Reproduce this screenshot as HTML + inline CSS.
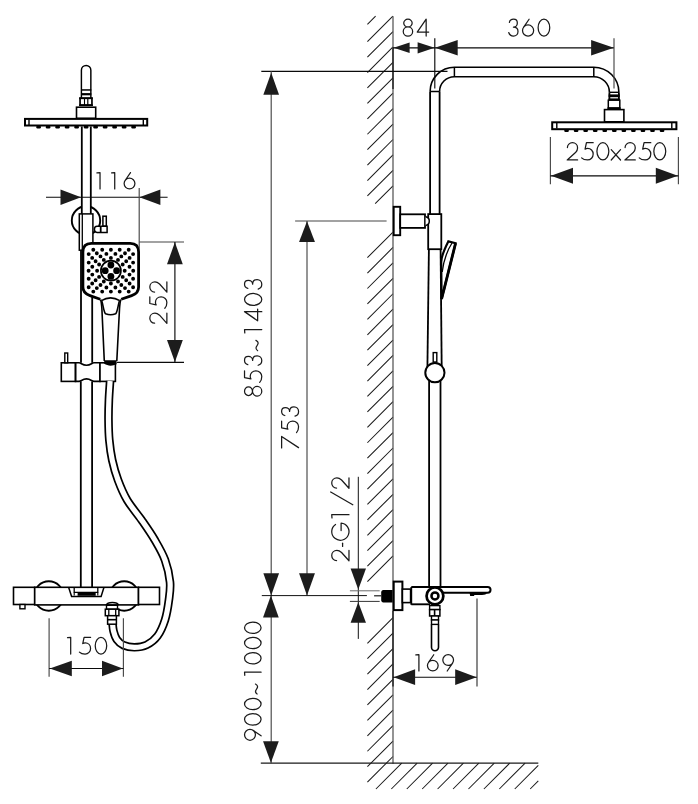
<!DOCTYPE html>
<html><head><meta charset="utf-8"><title>Shower system dimensions</title>
<style>html,body{margin:0;padding:0;background:#fff;width:698px;height:804px;overflow:hidden;font-family:"Liberation Sans",sans-serif}svg{display:block}</style>
</head><body>
<svg width="698" height="804" viewBox="0 0 698 804" stroke-linecap="butt">
<rect width="698" height="804" fill="#fff"/>
<path d="M367.4,24.4 L375.6,16.2 M367.4,41.7 L392.9,16.2 M367.4,57.13 L393,31.53 M367.4,72.55 L393,46.95 M367.4,87.98 L393,62.38 M367.4,103.4 L393,77.8 M367.4,118.83 L393,93.23 M367.4,134.25 L393,108.65 M367.4,149.68 L393,124.08 M367.4,165.1 L393,139.5 M367.4,180.53 L393,154.93 M367.4,195.95 L393,170.35 M375.18,203.6 L393,185.78 M367.4,257.65 L393,232.05 M367.4,273.08 L393,247.48 M367.4,288.5 L393,262.9 M367.4,303.93 L393,278.33 M367.4,319.35 L393,293.75 M367.4,334.77 L393,309.17 M367.4,350.2 L393,324.6 M367.4,365.63 L393,340.03 M367.4,381.05 L393,355.45 M367.4,396.48 L393,370.88 M367.4,411.9 L393,386.3 M367.4,427.33 L393,401.73 M367.4,442.75 L393,417.15 M367.4,458.18 L393,432.58 M367.4,473.6 L393,448 M367.4,489.03 L393,463.43 M367.4,504.45 L393,478.85 M367.4,519.88 L393,494.28 M367.4,535.3 L393,509.7 M367.4,550.73 L393,525.12 M367.4,566.15 L393,540.55 M367.4,581.58 L393,555.98 M367.4,643.28 L393,617.68 M367.4,658.7 L393,633.1 M367.4,674.13 L393,648.53 M367.4,689.55 L393,663.95 M367.4,704.98 L393,679.38 M367.4,720.4 L393,694.8 M367.4,735.82 L393,710.22 M367.4,751.25 L393,725.65 M367.4,766.68 L393,741.08 M367.4,782.1 L393,756.5 M375.93,789 L401.73,763.2 M391.35,789 L417.15,763.2 M406.78,789 L432.58,763.2 M422.2,789 L448,763.2 M437.62,789 L463.42,763.2 M453.05,789 L478.85,763.2 M468.47,789 L494.27,763.2 M483.9,789 L509.7,763.2 M499.33,789 L525.12,763.2 M514.75,789 L538.3,765.45 M530.18,789 L538.3,780.88" stroke="#1c1c1c" stroke-width="1.05" fill="none"/>
<path d="M81.4,98 V70.2 A4.72,4.72 0 0,1 90.85,70.2 V98" stroke="#000" stroke-width="1.45" fill="none"/>
<rect x="81" y="89.2" width="10.3" height="1.5" fill="#000"/>
<rect x="81" y="93.1" width="10.3" height="2.2" fill="#000"/>
<rect x="80.05" y="98.2" width="11.9" height="7" stroke="#000" stroke-width="1.7" fill="#fff"/>
<rect x="79.2" y="97.4" width="13.6" height="1.7" fill="#000"/>
<rect x="79.2" y="104.3" width="13.6" height="1.7" fill="#000"/>
<line x1="84.5" y1="98.2" x2="84.5" y2="105.2" stroke="#000" stroke-width="1.1"/>
<line x1="87.8" y1="98.2" x2="87.8" y2="105.2" stroke="#000" stroke-width="1.2"/>
<rect x="76.5" y="107.2" width="19.2" height="11.1" stroke="#000" stroke-width="1.6" fill="#fff"/>
<rect x="25" y="118.9" width="122.2" height="6.6" stroke="#000" stroke-width="2" fill="#fff"/>
<line x1="29" y1="119.5" x2="29" y2="125" stroke="#000" stroke-width="1.4"/>
<line x1="143.3" y1="119.5" x2="143.3" y2="125" stroke="#000" stroke-width="1.4"/>
<rect x="36.3" y="125.5" width="4.6" height="2.9" fill="#000" rx="1.2"/>
<rect x="45.8" y="125.5" width="4.6" height="2.9" fill="#000" rx="1.2"/>
<rect x="55.3" y="125.5" width="4.6" height="2.9" fill="#000" rx="1.2"/>
<rect x="64.8" y="125.5" width="4.6" height="2.9" fill="#000" rx="1.2"/>
<rect x="74.3" y="125.5" width="4.6" height="2.9" fill="#000" rx="1.2"/>
<rect x="83.8" y="125.5" width="4.6" height="2.9" fill="#000" rx="1.2"/>
<rect x="93.3" y="125.5" width="4.6" height="2.9" fill="#000" rx="1.2"/>
<rect x="102.8" y="125.5" width="4.6" height="2.9" fill="#000" rx="1.2"/>
<rect x="112.3" y="125.5" width="4.6" height="2.9" fill="#000" rx="1.2"/>
<rect x="121.8" y="125.5" width="4.6" height="2.9" fill="#000" rx="1.2"/>
<rect x="131.3" y="125.5" width="4.6" height="2.9" fill="#000" rx="1.2"/>
<circle cx="86" cy="220.5" r="14.2" stroke="#000" stroke-width="1.9" fill="none"/>
<rect x="81.8" y="200" width="9" height="14" fill="#fff"/>
<line x1="81.8" y1="126.5" x2="81.8" y2="214" stroke="#000" stroke-width="1.8"/>
<line x1="90.8" y1="126.5" x2="90.8" y2="214" stroke="#000" stroke-width="1.8"/>
<rect x="102.9" y="216.2" width="3.4" height="10" stroke="#000" stroke-width="1.5" fill="#fff"/>
<path d="M97,226.2 H107.1 V232.4 H97 C95.2,232.4 94.4,231 94.4,229.3 C94.4,227.6 95.2,226.2 97,226.2 Z" stroke="#000" stroke-width="1.5" fill="#fff"/>
<line x1="100.7" y1="226.2" x2="100.7" y2="232.4" stroke="#000" stroke-width="1.8"/>
<rect x="79.3" y="213.9" width="13.6" height="36.3" stroke="#000" stroke-width="1.5" fill="#fff"/>
<line x1="82.3" y1="213.9" x2="82.3" y2="250.2" stroke="#000" stroke-width="1.3"/>
<line x1="81" y1="250.2" x2="81" y2="362.8" stroke="#000" stroke-width="1.8"/>
<line x1="92.2" y1="295" x2="92.2" y2="362.8" stroke="#000" stroke-width="1.8"/>
<line x1="80.8" y1="381.4" x2="80.8" y2="587" stroke="#000" stroke-width="1.8"/>
<line x1="92.1" y1="381.4" x2="92.1" y2="587" stroke="#000" stroke-width="1.8"/>
<path d="M100.3,299.2 L90,295.6 C85.5,294.2 82.9,291.5 82.9,287 V252 C82.9,246.5 85.8,243.3 91.4,243.3 H130.2 C135.7,243.3 138.6,246.5 138.6,252 V287 C138.6,291.5 136.2,294.2 131.7,295.6 L121.2,299.2" stroke="#000" stroke-width="2.8" fill="#fff"/>
<path d="M100.6,299.5 C101.4,302 101.6,305 101.9,309 L104.3,361" stroke="#000" stroke-width="1.6" fill="none"/>
<path d="M120.8,299.5 C120,302 119.8,305 119.5,309 L116.8,361" stroke="#000" stroke-width="1.6" fill="none"/>
<path d="M101.4,300.6 Q110.6,295.2 119.8,300.6" stroke="#000" stroke-width="1.6" fill="none"/>
<path d="M101.8,301 C103.2,305 103.6,312 105.6,313.8 Q110.6,315.8 115.6,313.8 C117.6,312 118,305 119.4,301" stroke="#000" stroke-width="1.6" fill="none"/>
<path d="M91.35,249.8 a1.95,1.95 0 1,0 3.9,0 a1.95,1.95 0 1,0 -3.9,0 M100.25,249.8 a1.95,1.95 0 1,0 3.9,0 a1.95,1.95 0 1,0 -3.9,0 M108.95,249.8 a1.95,1.95 0 1,0 3.9,0 a1.95,1.95 0 1,0 -3.9,0 M117.75,249.8 a1.95,1.95 0 1,0 3.9,0 a1.95,1.95 0 1,0 -3.9,0 M126.75,249.8 a1.95,1.95 0 1,0 3.9,0 a1.95,1.95 0 1,0 -3.9,0 M86.75,254.1 a1.95,1.95 0 1,0 3.9,0 a1.95,1.95 0 1,0 -3.9,0 M94.85,253.3 a1.95,1.95 0 1,0 3.9,0 a1.95,1.95 0 1,0 -3.9,0 M104.45,253.9 a1.95,1.95 0 1,0 3.9,0 a1.95,1.95 0 1,0 -3.9,0 M113.45,253.9 a1.95,1.95 0 1,0 3.9,0 a1.95,1.95 0 1,0 -3.9,0 M123.05,253.3 a1.95,1.95 0 1,0 3.9,0 a1.95,1.95 0 1,0 -3.9,0 M131.15,254.1 a1.95,1.95 0 1,0 3.9,0 a1.95,1.95 0 1,0 -3.9,0 M90.25,257.9 a1.95,1.95 0 1,0 3.9,0 a1.95,1.95 0 1,0 -3.9,0 M98.55,256.4 a1.95,1.95 0 1,0 3.9,0 a1.95,1.95 0 1,0 -3.9,0 M108.95,257.9 a1.95,1.95 0 1,0 3.9,0 a1.95,1.95 0 1,0 -3.9,0 M119.35,256.4 a1.95,1.95 0 1,0 3.9,0 a1.95,1.95 0 1,0 -3.9,0 M127.65,257.9 a1.95,1.95 0 1,0 3.9,0 a1.95,1.95 0 1,0 -3.9,0 M93.65,261.2 a1.95,1.95 0 1,0 3.9,0 a1.95,1.95 0 1,0 -3.9,0 M101.85,259.9 a1.95,1.95 0 1,0 3.9,0 a1.95,1.95 0 1,0 -3.9,0 M116.05,259.9 a1.95,1.95 0 1,0 3.9,0 a1.95,1.95 0 1,0 -3.9,0 M124.25,261.2 a1.95,1.95 0 1,0 3.9,0 a1.95,1.95 0 1,0 -3.9,0 M86.75,262.6 a1.95,1.95 0 1,0 3.9,0 a1.95,1.95 0 1,0 -3.9,0 M97.15,264.5 a1.95,1.95 0 1,0 3.9,0 a1.95,1.95 0 1,0 -3.9,0 M120.75,264.5 a1.95,1.95 0 1,0 3.9,0 a1.95,1.95 0 1,0 -3.9,0 M131.15,262.6 a1.95,1.95 0 1,0 3.9,0 a1.95,1.95 0 1,0 -3.9,0 M90.35,266.8 a1.95,1.95 0 1,0 3.9,0 a1.95,1.95 0 1,0 -3.9,0 M127.55,266.8 a1.95,1.95 0 1,0 3.9,0 a1.95,1.95 0 1,0 -3.9,0 M91.35,291.6 a1.95,1.95 0 1,0 3.9,0 a1.95,1.95 0 1,0 -3.9,0 M100.25,291.6 a1.95,1.95 0 1,0 3.9,0 a1.95,1.95 0 1,0 -3.9,0 M108.95,291.6 a1.95,1.95 0 1,0 3.9,0 a1.95,1.95 0 1,0 -3.9,0 M117.75,291.6 a1.95,1.95 0 1,0 3.9,0 a1.95,1.95 0 1,0 -3.9,0 M126.75,291.6 a1.95,1.95 0 1,0 3.9,0 a1.95,1.95 0 1,0 -3.9,0 M86.75,287.3 a1.95,1.95 0 1,0 3.9,0 a1.95,1.95 0 1,0 -3.9,0 M94.85,288.1 a1.95,1.95 0 1,0 3.9,0 a1.95,1.95 0 1,0 -3.9,0 M104.45,287.5 a1.95,1.95 0 1,0 3.9,0 a1.95,1.95 0 1,0 -3.9,0 M113.45,287.5 a1.95,1.95 0 1,0 3.9,0 a1.95,1.95 0 1,0 -3.9,0 M123.05,288.1 a1.95,1.95 0 1,0 3.9,0 a1.95,1.95 0 1,0 -3.9,0 M131.15,287.3 a1.95,1.95 0 1,0 3.9,0 a1.95,1.95 0 1,0 -3.9,0 M90.25,283.5 a1.95,1.95 0 1,0 3.9,0 a1.95,1.95 0 1,0 -3.9,0 M98.55,285 a1.95,1.95 0 1,0 3.9,0 a1.95,1.95 0 1,0 -3.9,0 M108.95,283.5 a1.95,1.95 0 1,0 3.9,0 a1.95,1.95 0 1,0 -3.9,0 M119.35,285 a1.95,1.95 0 1,0 3.9,0 a1.95,1.95 0 1,0 -3.9,0 M127.65,283.5 a1.95,1.95 0 1,0 3.9,0 a1.95,1.95 0 1,0 -3.9,0 M93.65,280.2 a1.95,1.95 0 1,0 3.9,0 a1.95,1.95 0 1,0 -3.9,0 M101.85,281.5 a1.95,1.95 0 1,0 3.9,0 a1.95,1.95 0 1,0 -3.9,0 M116.05,281.5 a1.95,1.95 0 1,0 3.9,0 a1.95,1.95 0 1,0 -3.9,0 M124.25,280.2 a1.95,1.95 0 1,0 3.9,0 a1.95,1.95 0 1,0 -3.9,0 M86.75,278.8 a1.95,1.95 0 1,0 3.9,0 a1.95,1.95 0 1,0 -3.9,0 M97.15,276.9 a1.95,1.95 0 1,0 3.9,0 a1.95,1.95 0 1,0 -3.9,0 M120.75,276.9 a1.95,1.95 0 1,0 3.9,0 a1.95,1.95 0 1,0 -3.9,0 M131.15,278.8 a1.95,1.95 0 1,0 3.9,0 a1.95,1.95 0 1,0 -3.9,0 M90.35,274.6 a1.95,1.95 0 1,0 3.9,0 a1.95,1.95 0 1,0 -3.9,0 M127.55,274.6 a1.95,1.95 0 1,0 3.9,0 a1.95,1.95 0 1,0 -3.9,0 M86.65,270.7 a1.95,1.95 0 1,0 3.9,0 a1.95,1.95 0 1,0 -3.9,0 M95.15,270.7 a1.95,1.95 0 1,0 3.9,0 a1.95,1.95 0 1,0 -3.9,0 M122.75,270.7 a1.95,1.95 0 1,0 3.9,0 a1.95,1.95 0 1,0 -3.9,0 M131.25,270.7 a1.95,1.95 0 1,0 3.9,0 a1.95,1.95 0 1,0 -3.9,0" fill="#000"/>
<circle cx="110.9" cy="270.7" r="10" stroke="#000" stroke-width="1.7" fill="#fff"/>
<circle cx="110.9" cy="265" r="3.4" fill="#000"/>
<circle cx="105.2" cy="270.7" r="3.4" fill="#000"/>
<circle cx="116.6" cy="270.7" r="3.4" fill="#000"/>
<circle cx="110.9" cy="276.4" r="3.4" fill="#000"/>
<rect x="61.3" y="362.8" width="14.2" height="18.6" stroke="#000" stroke-width="1.6" fill="#fff"/>
<path d="M75.5,362.8 H79 C81.2,362.8 82.2,365.3 86.5,365.3 C90.8,365.3 91.8,362.8 94,362.8 H100 V381.4 H94 C91.8,381.4 90.8,378.9 86.5,378.9 C82.2,378.9 81.2,381.4 79,381.4 H75.5 Z" stroke="#000" stroke-width="1.6" fill="none"/>
<rect x="100" y="362.8" width="15.4" height="18.6" stroke="#000" stroke-width="1.6" fill="#fff"/>
<path d="M104.2,360.2 H116.6 V364.3 C114.5,364.8 112.8,365.7 110.6,365.7 C108.2,365.7 106.2,364.6 104.2,363.8 Z" stroke="#000" stroke-width="0" fill="#000"/>
<rect x="64.8" y="353" width="2.9" height="9.8" stroke="#000" stroke-width="1.4" fill="#fff"/>
<path d="M110.1,381 C109.9,384.17 109.17,393.5 108.9,400 C108.63,406.5 108.43,413.33 108.5,420 C108.57,426.67 108.68,433.33 109.3,440 C109.92,446.67 110.75,453.33 112.2,460 C113.65,466.67 115.52,473.33 118,480 C120.48,486.67 123.17,493.33 127.1,500 C131.03,506.67 136.98,513.33 141.6,520 C146.22,526.67 150.9,533.33 154.8,540 C158.7,546.67 162.47,553 165,560 C167.53,567 169.35,575.33 170,582 C170.65,588.67 169.73,593.67 168.9,600 C168.07,606.33 166.9,614 165,620 C163.1,626 160.58,631.83 157.5,636 C154.42,640.17 150.33,643.12 146.5,645 C142.67,646.88 138.33,647.27 134.5,647.3 C130.67,647.33 126.45,646.5 123.5,645.2 C120.55,643.9 118.47,641.87 116.8,639.5 C115.13,637.13 114.23,633.92 113.5,631 C112.77,628.08 112.58,623.5 112.4,622" stroke="#000" stroke-width="8.6" fill="none"/>
<path d="M110.1,381 C109.9,384.17 109.17,393.5 108.9,400 C108.63,406.5 108.43,413.33 108.5,420 C108.57,426.67 108.68,433.33 109.3,440 C109.92,446.67 110.75,453.33 112.2,460 C113.65,466.67 115.52,473.33 118,480 C120.48,486.67 123.17,493.33 127.1,500 C131.03,506.67 136.98,513.33 141.6,520 C146.22,526.67 150.9,533.33 154.8,540 C158.7,546.67 162.47,553 165,560 C167.53,567 169.35,575.33 170,582 C170.65,588.67 169.73,593.67 168.9,600 C168.07,606.33 166.9,614 165,620 C163.1,626 160.58,631.83 157.5,636 C154.42,640.17 150.33,643.12 146.5,645 C142.67,646.88 138.33,647.27 134.5,647.3 C130.67,647.33 126.45,646.5 123.5,645.2 C120.55,643.9 118.47,641.87 116.8,639.5 C115.13,637.13 114.23,633.92 113.5,631 C112.77,628.08 112.58,623.5 112.4,622" stroke="#fff" stroke-width="5.2" fill="none"/>
<circle cx="48.8" cy="596" r="14.7" stroke="#000" stroke-width="1.9" fill="none"/>
<circle cx="124.2" cy="596" r="14.7" stroke="#000" stroke-width="1.9" fill="none"/>
<rect x="13.5" y="587.3" width="21.2" height="17.2" stroke="#000" stroke-width="1.6" fill="#fff"/>
<rect x="19.9" y="604.5" width="5.1" height="4.3" stroke="#000" stroke-width="1.4" fill="#fff"/>
<rect x="34.7" y="587.3" width="103.8" height="17.6" stroke="#000" stroke-width="1.6" fill="#fff"/>
<rect x="138.5" y="587.3" width="21" height="17.2" stroke="#000" stroke-width="1.6" fill="#fff"/>
<path d="M68.6,587.3 L71.6,596.4 H101.1 L104,587.3" stroke="#000" stroke-width="1.5" fill="none"/>
<path d="M74.2,587.6 V592.4 H97.8 V587.6" stroke="#000" stroke-width="1.3" fill="none"/>
<rect x="77.6" y="592.3" width="18.1" height="3.5" fill="#000"/>
<line x1="74.2" y1="592.4" x2="74.2" y2="595.6" stroke="#000" stroke-width="1.1"/>
<line x1="97.8" y1="592.4" x2="97.8" y2="595.6" stroke="#000" stroke-width="1.1"/>
<path d="M106.4,605.3 C107,603 109,602.6 112.4,602.6 C115.8,602.6 117.8,603 118.5,605.3" stroke="#000" stroke-width="1.5" fill="none"/>
<rect x="106.5" y="605.3" width="11" height="3.9" stroke="#000" stroke-width="1.4" fill="#fff"/>
<rect x="105.3" y="609.2" width="13.6" height="6.5" stroke="#000" stroke-width="1.5" fill="#fff"/>
<line x1="108.8" y1="609.2" x2="108.8" y2="615.7" stroke="#000" stroke-width="1.3"/>
<line x1="115.7" y1="609.2" x2="115.7" y2="615.7" stroke="#000" stroke-width="1.3"/>
<rect x="107.6" y="615.7" width="8.8" height="8.5" stroke="#000" stroke-width="1.5" fill="#fff"/>
<line x1="107.6" y1="619.7" x2="116.4" y2="619.7" stroke="#000" stroke-width="1.6"/>
<line x1="393" y1="16.2" x2="393" y2="763.8" stroke="#5a5a5a" stroke-width="1.3"/>
<line x1="393" y1="47.8" x2="393" y2="89" stroke="#1a1a1a" stroke-width="1.3"/>
<line x1="393" y1="611" x2="393" y2="686.6" stroke="#1a1a1a" stroke-width="1.3"/>
<line x1="260.8" y1="763.2" x2="538.3" y2="763.2" stroke="#1a1a1a" stroke-width="1.2"/>
<line x1="430.1" y1="91.5" x2="430.1" y2="214.1" stroke="#000" stroke-width="1.8"/>
<line x1="439.6" y1="91.5" x2="439.6" y2="214.1" stroke="#000" stroke-width="1.8"/>
<path d="M430.1,91.5 A24.3,24.3 0 0,1 454.4,67.2 H593.8 A25.1,25.1 0 0,1 618.9,92.3" stroke="#000" stroke-width="1.6" fill="none"/>
<path d="M439.6,91.5 A14.8,14.8 0 0,1 454.4,76.7 H593.8 A15.6,15.6 0 0,1 609.4,92.3" stroke="#000" stroke-width="1.6" fill="none"/>
<line x1="430.1" y1="91.5" x2="439.6" y2="91.5" stroke="#000" stroke-width="1.5"/>
<line x1="454.4" y1="67.2" x2="454.4" y2="76.7" stroke="#000" stroke-width="1.5"/>
<line x1="593.8" y1="67.2" x2="593.8" y2="76.7" stroke="#000" stroke-width="1.5"/>
<line x1="609.4" y1="92.3" x2="609.4" y2="100.5" stroke="#000" stroke-width="1.8"/>
<line x1="618.9" y1="92.3" x2="618.9" y2="100.5" stroke="#000" stroke-width="1.8"/>
<line x1="609.4" y1="92.3" x2="618.9" y2="92.3" stroke="#000" stroke-width="1.4"/>
<rect x="608.6" y="94.4" width="11.1" height="2.8" fill="#000"/>
<rect x="608.6" y="98.4" width="11.1" height="1.8" fill="#000"/>
<rect x="608.3" y="100.2" width="11.5" height="8.1" stroke="#000" stroke-width="1.5" fill="#fff"/>
<rect x="607.5" y="107.2" width="13.1" height="2.4" fill="#000"/>
<rect x="604.5" y="109.6" width="19.4" height="12.2" stroke="#000" stroke-width="1.6" fill="#fff"/>
<rect x="552.2" y="122.3" width="124.2" height="6.9" stroke="#000" stroke-width="2" fill="#fff"/>
<line x1="556.8" y1="123" x2="556.8" y2="128.6" stroke="#000" stroke-width="1.4"/>
<line x1="671.8" y1="123" x2="671.8" y2="128.6" stroke="#000" stroke-width="1.4"/>
<rect x="564.25" y="129.2" width="4.6" height="2.8" fill="#000" rx="1.2"/>
<rect x="573.8" y="129.2" width="4.6" height="2.8" fill="#000" rx="1.2"/>
<rect x="583.35" y="129.2" width="4.6" height="2.8" fill="#000" rx="1.2"/>
<rect x="592.9" y="129.2" width="4.6" height="2.8" fill="#000" rx="1.2"/>
<rect x="602.45" y="129.2" width="4.6" height="2.8" fill="#000" rx="1.2"/>
<rect x="612" y="129.2" width="4.6" height="2.8" fill="#000" rx="1.2"/>
<rect x="621.55" y="129.2" width="4.6" height="2.8" fill="#000" rx="1.2"/>
<rect x="631.1" y="129.2" width="4.6" height="2.8" fill="#000" rx="1.2"/>
<rect x="640.65" y="129.2" width="4.6" height="2.8" fill="#000" rx="1.2"/>
<rect x="650.2" y="129.2" width="4.6" height="2.8" fill="#000" rx="1.2"/>
<rect x="659.75" y="129.2" width="4.6" height="2.8" fill="#000" rx="1.2"/>
<rect x="393.7" y="206.8" width="6.5" height="28.4" stroke="#000" stroke-width="1.9" fill="#fff"/>
<rect x="400.2" y="214.3" width="24.8" height="13.6" stroke="#000" stroke-width="1.8" fill="#fff"/>
<rect x="428.2" y="214.1" width="13.1" height="35.1" stroke="#000" stroke-width="1.8" fill="#fff"/>
<path d="M425.6,216.7 C428.4,217.2 429.3,219.2 429.3,221 C429.3,222.8 428.4,224.9 425.6,225.4" stroke="#000" stroke-width="1.5" fill="#fff"/>
<line x1="428.9" y1="249.2" x2="427.4" y2="368" stroke="#000" stroke-width="1.8"/>
<line x1="440.6" y1="249.2" x2="441.7" y2="368" stroke="#000" stroke-width="1.8"/>
<path d="M448.3,241.4 L455.6,243.2 L441.6,299 L441.2,262 C441.2,256 444.5,249 448.3,241.4 Z" stroke="#000" stroke-width="2.2" fill="#fff"/>
<path d="M452,243 C447.5,250 443.5,262 442.2,272" stroke="#000" stroke-width="1.3" fill="none"/>
<path d="M455.6,243.2 L441.6,299" stroke="#000" stroke-width="2.8" fill="none"/>
<line x1="429.1" y1="378" x2="429.1" y2="587" stroke="#000" stroke-width="1.8"/>
<line x1="440.5" y1="378" x2="440.5" y2="587" stroke="#000" stroke-width="1.8"/>
<rect x="433.2" y="352.6" width="3.6" height="9.4" stroke="#000" stroke-width="1.4" fill="#fff"/>
<circle cx="434.9" cy="372.7" r="9.6" stroke="#000" stroke-width="2" fill="#fff"/>
<path d="M392.6,590 H383.4 C382,590 381.2,591 381.2,592.4 V600.1 C381.2,601.5 382,602.5 383.4,602.5 H392.6 Z" stroke="#000" stroke-width="0" fill="#000"/>
<line x1="374.1" y1="595.8" x2="381.2" y2="595.8" stroke="#1a1a1a" stroke-width="1.2"/>
<rect x="393.7" y="581.6" width="8.7" height="28.5" stroke="#000" stroke-width="2" fill="#fff"/>
<rect x="402.4" y="589.1" width="8.2" height="13.5" stroke="#000" stroke-width="1.6" fill="#fff"/>
<line x1="411.3" y1="587" x2="411.3" y2="604.8" stroke="#000" stroke-width="1.8"/>
<path d="M411.3,587.1 L430,586.9 H487.6 A2.95,2.95 0 0,1 487.6,592.8 H440" stroke="#000" stroke-width="2" fill="none"/>
<line x1="411.3" y1="604.3" x2="430" y2="604.3" stroke="#000" stroke-width="1.9"/>
<path d="M469.5,592.6 H487.4 C486.4,594.3 484.8,595.1 482,595.1 H474.2 V596.1 H470.2 Z" stroke="#000" stroke-width="0" fill="#000"/>
<circle cx="434.95" cy="595.9" r="8.4" stroke="#000" stroke-width="2.7" fill="#fff"/>
<circle cx="434.95" cy="595.9" r="3.5" stroke="#000" stroke-width="2.5" fill="#fff"/>
<rect x="429.6" y="605.6" width="10.3" height="4" stroke="#000" stroke-width="1.4" fill="#fff"/>
<rect x="429.6" y="609.6" width="10.3" height="6.4" stroke="#000" stroke-width="1.5" fill="#fff"/>
<line x1="434.6" y1="609.6" x2="434.6" y2="616" stroke="#000" stroke-width="1.6"/>
<rect x="431.5" y="616" width="7" height="4" stroke="#000" stroke-width="1.4" fill="#fff"/>
<rect x="431.5" y="620" width="7" height="4.4" stroke="#000" stroke-width="1.4" fill="#fff"/>
<path d="M431.5,624.4 V647.3 A3.5,3.5 0 0,0 438.5,647.3 V624.4" stroke="#000" stroke-width="1.6" fill="none"/>
<line x1="46" y1="197.2" x2="167.6" y2="197.2" stroke="#0a0a0a" stroke-width="1.15"/>
<polygon points="81,197.2 60.5,189.4 60.5,205" fill="#1c1c1c"/>
<polygon points="139.4,197.2 160.4,189.4 160.4,205" fill="#1c1c1c"/>
<line x1="139.2" y1="188" x2="139.2" y2="248" stroke="#474747" stroke-width="1.15"/>
<line x1="139.2" y1="242" x2="184" y2="242" stroke="#474747" stroke-width="1.15"/>
<line x1="117" y1="362.3" x2="184" y2="362.3" stroke="#0a0a0a" stroke-width="1.15"/>
<line x1="174.9" y1="242" x2="174.9" y2="362.3" stroke="#0a0a0a" stroke-width="1.15"/>
<polygon points="174.9,242.3 167,264.3 182.8,264.3" fill="#1c1c1c"/>
<polygon points="174.9,362 167,340 182.8,340" fill="#1c1c1c"/>
<line x1="49.1" y1="618.2" x2="49.1" y2="676.7" stroke="#474747" stroke-width="1.15"/>
<line x1="123.4" y1="618.2" x2="123.4" y2="676.7" stroke="#474747" stroke-width="1.15"/>
<line x1="49.1" y1="668.5" x2="123.4" y2="668.5" stroke="#0a0a0a" stroke-width="1.15"/>
<polygon points="49.8,668.5 71.8,660.7 71.8,676.3" fill="#1c1c1c"/>
<polygon points="122.8,668.5 102,660.7 102,676.3" fill="#1c1c1c"/>
<line x1="393" y1="47.8" x2="614" y2="47.8" stroke="#0a0a0a" stroke-width="1.15"/>
<line x1="434.8" y1="38.3" x2="434.8" y2="88.5" stroke="#0a0a0a" stroke-width="1.15"/>
<line x1="614" y1="38.3" x2="614" y2="88.5" stroke="#474747" stroke-width="1.15"/>
<polygon points="393.6,47.8 409.6,42.6 409.6,53" fill="#1c1c1c"/>
<polygon points="434.6,47.8 417.6,42.2 417.6,53.4" fill="#1c1c1c"/>
<polygon points="435,47.8 457.7,40 457.7,55.6" fill="#1c1c1c"/>
<polygon points="613.8,47.8 591.1,40 591.1,55.6" fill="#1c1c1c"/>
<line x1="550.4" y1="137" x2="550.4" y2="184.2" stroke="#474747" stroke-width="1.15"/>
<line x1="678.4" y1="137" x2="678.4" y2="184.2" stroke="#474747" stroke-width="1.15"/>
<line x1="550.4" y1="175.8" x2="678.4" y2="175.8" stroke="#0a0a0a" stroke-width="1.15"/>
<polygon points="551,175.8 573,167.8 573,183.8" fill="#1c1c1c"/>
<polygon points="677.8,175.8 655.8,167.8 655.8,183.8" fill="#1c1c1c"/>
<line x1="261.3" y1="71.3" x2="447.5" y2="71.3" stroke="#0a0a0a" stroke-width="1.15"/>
<line x1="271.2" y1="71.3" x2="271.2" y2="763.2" stroke="#474747" stroke-width="1.15"/>
<polygon points="271.2,72.8 263.35,94.7 279.05,94.7" fill="#1c1c1c"/>
<polygon points="271.2,595.5 263.35,573.3 279.05,573.3" fill="#1c1c1c"/>
<polygon points="270.9,595.5 263.05,617.5 278.75,617.5" fill="#1c1c1c"/>
<polygon points="270.9,762.8 263.05,741.2 278.75,741.2" fill="#1c1c1c"/>
<line x1="295.1" y1="221" x2="386.6" y2="221" stroke="#474747" stroke-width="1.15"/>
<line x1="307" y1="221" x2="307" y2="595.5" stroke="#474747" stroke-width="1.15"/>
<polygon points="307,221.3 299.05,242.1 314.95,242.1" fill="#1c1c1c"/>
<polygon points="307,595.5 299.05,573.3 314.95,573.3" fill="#1c1c1c"/>
<line x1="261.8" y1="595.6" x2="366.9" y2="595.6" stroke="#111" stroke-width="1"/>
<line x1="358.3" y1="476.8" x2="358.3" y2="638.9" stroke="#111" stroke-width="1"/>
<line x1="349.9" y1="590.8" x2="379.7" y2="590.8" stroke="#6a6a6a" stroke-width="1"/>
<line x1="349.9" y1="601.4" x2="379.7" y2="601.4" stroke="#333" stroke-width="1"/>
<polygon points="358.3,589.5 350.6,568.4 366,568.4" fill="#1c1c1c"/>
<polygon points="358.3,602.3 350.6,622.7 366,622.7" fill="#1c1c1c"/>
<line x1="393" y1="677.2" x2="477" y2="677.2" stroke="#0a0a0a" stroke-width="1.15"/>
<line x1="477" y1="598.5" x2="477" y2="686.6" stroke="#333" stroke-width="1.15"/>
<polygon points="393.6,677.2 415.1,669.35 415.1,685.05" fill="#1c1c1c"/>
<polygon points="476.6,677.2 455.2,669.35 455.2,685.05" fill="#1c1c1c"/>
<path transform="translate(403.23,19.23) scale(0.16850)" d="M3,23 a25,23 0 1,0 50,0 a25,23 0 1,0 -50,0 M0,73 a28,27 0 1,0 56,0 a28,27 0 1,0 -56,0" stroke="#1a1a1a" stroke-width="7.4184" fill="none" stroke-linecap="round" stroke-linejoin="round"/>
<path transform="translate(417.23,19.23) scale(0.16850)" d="M68,76 H0 L53,0 V100" stroke="#1a1a1a" stroke-width="7.4184" fill="none" stroke-linecap="round" stroke-linejoin="round"/>
<path transform="translate(508.73,19.23) scale(0.16850)" d="M4,19 C6,8 17,0 29,0 C42,0 51,9 51,22 C51,37 40,47 28,47 C44,47 55,57 55,73 C55,89 43,100 28,100 C15,100 4,92 0,79" stroke="#1a1a1a" stroke-width="7.4184" fill="none" stroke-linecap="round" stroke-linejoin="round"/>
<path transform="translate(522.52,19.23) scale(0.16850)" d="M39,0 L5.8,48.31 M0,67 a33,33 0 1,0 66,0 a33,33 0 1,0 -66,0" stroke="#1a1a1a" stroke-width="7.4184" fill="none" stroke-linecap="round" stroke-linejoin="round"/>
<path transform="translate(538.12,19.23) scale(0.16850)" d="M0,50 a34.5,50 0 1,0 69,0 a34.5,50 0 1,0 -69,0" stroke="#1a1a1a" stroke-width="7.4184" fill="none" stroke-linecap="round" stroke-linejoin="round"/>
<path transform="translate(567.23,142.72) scale(0.17250)" d="M1,28 C1,12 14,0 30,0 C47,0 60,13 60,30 C60,41 55,49 48,57 L0,100 H60" stroke="#1a1a1a" stroke-width="7.2464" fill="none" stroke-linecap="round" stroke-linejoin="round"/>
<path transform="translate(581.62,142.72) scale(0.17250)" d="M67,0 H28 L20,37 C25,34 30,33 35,33 C53,33 67,47 67,66 C67,85 53,100 34,100 C20,100 7,95 0,88" stroke="#1a1a1a" stroke-width="7.2464" fill="none" stroke-linecap="round" stroke-linejoin="round"/>
<path transform="translate(596.92,142.72) scale(0.17250)" d="M0,50 a34.5,50 0 1,0 69,0 a34.5,50 0 1,0 -69,0" stroke="#1a1a1a" stroke-width="7.2464" fill="none" stroke-linecap="round" stroke-linejoin="round"/>
<path transform="translate(611.23,142.72) scale(0.17250)" d="M0,40 L54,100 M54,40 L0,100" stroke="#1a1a1a" stroke-width="7.2464" fill="none" stroke-linecap="round" stroke-linejoin="round"/>
<path transform="translate(624.92,142.72) scale(0.17250)" d="M1,28 C1,12 14,0 30,0 C47,0 60,13 60,30 C60,41 55,49 48,57 L0,100 H60" stroke="#1a1a1a" stroke-width="7.2464" fill="none" stroke-linecap="round" stroke-linejoin="round"/>
<path transform="translate(639.23,142.72) scale(0.17250)" d="M67,0 H28 L20,37 C25,34 30,33 35,33 C53,33 67,47 67,66 C67,85 53,100 34,100 C20,100 7,95 0,88" stroke="#1a1a1a" stroke-width="7.2464" fill="none" stroke-linecap="round" stroke-linejoin="round"/>
<path transform="translate(653.83,142.72) scale(0.17250)" d="M0,50 a34.5,50 0 1,0 69,0 a34.5,50 0 1,0 -69,0" stroke="#1a1a1a" stroke-width="7.2464" fill="none" stroke-linecap="round" stroke-linejoin="round"/>
<path transform="translate(96.92,172.62) scale(0.16350)" d="M0,1.5 L19,0 V100" stroke="#1a1a1a" stroke-width="7.6453" fill="none" stroke-linecap="round" stroke-linejoin="round"/>
<path transform="translate(111.62,172.62) scale(0.16350)" d="M0,1.5 L19,0 V100" stroke="#1a1a1a" stroke-width="7.6453" fill="none" stroke-linecap="round" stroke-linejoin="round"/>
<path transform="translate(124.12,172.62) scale(0.16350)" d="M39,0 L5.8,48.31 M0,67 a33,33 0 1,0 66,0 a33,33 0 1,0 -66,0" stroke="#1a1a1a" stroke-width="7.6453" fill="none" stroke-linecap="round" stroke-linejoin="round"/>
<path transform="translate(67.53,637.42) scale(0.16650)" d="M0,1.5 L19,0 V100" stroke="#1a1a1a" stroke-width="7.5075" fill="none" stroke-linecap="round" stroke-linejoin="round"/>
<path transform="translate(79.42,637.42) scale(0.16650)" d="M67,0 H28 L20,37 C25,34 30,33 35,33 C53,33 67,47 67,66 C67,85 53,100 34,100 C20,100 7,95 0,88" stroke="#1a1a1a" stroke-width="7.5075" fill="none" stroke-linecap="round" stroke-linejoin="round"/>
<path transform="translate(95.22,637.42) scale(0.16650)" d="M0,50 a34.5,50 0 1,0 69,0 a34.5,50 0 1,0 -69,0" stroke="#1a1a1a" stroke-width="7.5075" fill="none" stroke-linecap="round" stroke-linejoin="round"/>
<path transform="translate(415.82,654.73) scale(0.16250)" d="M0,1.5 L19,0 V100" stroke="#1a1a1a" stroke-width="7.6923" fill="none" stroke-linecap="round" stroke-linejoin="round"/>
<path transform="translate(427.43,654.73) scale(0.16250)" d="M39,0 L5.8,48.31 M0,67 a33,33 0 1,0 66,0 a33,33 0 1,0 -66,0" stroke="#1a1a1a" stroke-width="7.6923" fill="none" stroke-linecap="round" stroke-linejoin="round"/>
<path transform="translate(442.82,654.73) scale(0.16250)" d="M27,100 L60.2,51.69 M0,33 a33,33 0 1,0 66,0 a33,33 0 1,0 -66,0" stroke="#1a1a1a" stroke-width="7.6923" fill="none" stroke-linecap="round" stroke-linejoin="round"/>
<path transform="translate(149.82,323.38) rotate(-90) scale(0.17050)" d="M1,28 C1,12 14,0 30,0 C47,0 60,13 60,30 C60,41 55,49 48,57 L0,100 H60" stroke="#1a1a1a" stroke-width="7.3314" fill="none" stroke-linecap="round" stroke-linejoin="round"/>
<path transform="translate(149.82,308.27) rotate(-90) scale(0.17050)" d="M67,0 H28 L20,37 C25,34 30,33 35,33 C53,33 67,47 67,66 C67,85 53,100 34,100 C20,100 7,95 0,88" stroke="#1a1a1a" stroke-width="7.3314" fill="none" stroke-linecap="round" stroke-linejoin="round"/>
<path transform="translate(149.82,292.18) rotate(-90) scale(0.17050)" d="M1,28 C1,12 14,0 30,0 C47,0 60,13 60,30 C60,41 55,49 48,57 L0,100 H60" stroke="#1a1a1a" stroke-width="7.3314" fill="none" stroke-linecap="round" stroke-linejoin="round"/>
<path transform="translate(244.53,396.07) rotate(-90) scale(0.17250)" d="M3,23 a25,23 0 1,0 50,0 a25,23 0 1,0 -50,0 M0,73 a28,27 0 1,0 56,0 a28,27 0 1,0 -56,0" stroke="#1a1a1a" stroke-width="7.2464" fill="none" stroke-linecap="round" stroke-linejoin="round"/>
<path transform="translate(244.53,382.38) rotate(-90) scale(0.17250)" d="M67,0 H28 L20,37 C25,34 30,33 35,33 C53,33 67,47 67,66 C67,85 53,100 34,100 C20,100 7,95 0,88" stroke="#1a1a1a" stroke-width="7.2464" fill="none" stroke-linecap="round" stroke-linejoin="round"/>
<path transform="translate(244.53,365.27) rotate(-90) scale(0.17250)" d="M4,19 C6,8 17,0 29,0 C42,0 51,9 51,22 C51,37 40,47 28,47 C44,47 55,57 55,73 C55,89 43,100 28,100 C15,100 4,92 0,79" stroke="#1a1a1a" stroke-width="7.2464" fill="none" stroke-linecap="round" stroke-linejoin="round"/>
<path transform="translate(244.53,350.68) rotate(-90) scale(0.17250)" d="M0,76 C5,68 12,65 19,67 C26,69 36,79 44,79 C52,79 57,72 60,66" stroke="#1a1a1a" stroke-width="7.2464" fill="none" stroke-linecap="round" stroke-linejoin="round"/>
<path transform="translate(244.53,332.88) rotate(-90) scale(0.17250)" d="M0,1.5 L19,0 V100" stroke="#1a1a1a" stroke-width="7.2464" fill="none" stroke-linecap="round" stroke-linejoin="round"/>
<path transform="translate(244.53,320.77) rotate(-90) scale(0.17250)" d="M68,76 H0 L53,0 V100" stroke="#1a1a1a" stroke-width="7.2464" fill="none" stroke-linecap="round" stroke-linejoin="round"/>
<path transform="translate(244.53,305.38) rotate(-90) scale(0.17250)" d="M0,50 a34.5,50 0 1,0 69,0 a34.5,50 0 1,0 -69,0" stroke="#1a1a1a" stroke-width="7.2464" fill="none" stroke-linecap="round" stroke-linejoin="round"/>
<path transform="translate(244.53,289.07) rotate(-90) scale(0.17250)" d="M4,19 C6,8 17,0 29,0 C42,0 51,9 51,22 C51,37 40,47 28,47 C44,47 55,57 55,73 C55,89 43,100 28,100 C15,100 4,92 0,79" stroke="#1a1a1a" stroke-width="7.2464" fill="none" stroke-linecap="round" stroke-linejoin="round"/>
<path transform="translate(281.62,447.98) rotate(-90) scale(0.16950)" d="M0,0 H68 L2,100" stroke="#1a1a1a" stroke-width="7.3746" fill="none" stroke-linecap="round" stroke-linejoin="round"/>
<path transform="translate(281.62,432.58) rotate(-90) scale(0.16950)" d="M67,0 H28 L20,37 C25,34 30,33 35,33 C53,33 67,47 67,66 C67,85 53,100 34,100 C20,100 7,95 0,88" stroke="#1a1a1a" stroke-width="7.3746" fill="none" stroke-linecap="round" stroke-linejoin="round"/>
<path transform="translate(281.62,416.18) rotate(-90) scale(0.16950)" d="M4,19 C6,8 17,0 29,0 C42,0 51,9 51,22 C51,37 40,47 28,47 C44,47 55,57 55,73 C55,89 43,100 28,100 C15,100 4,92 0,79" stroke="#1a1a1a" stroke-width="7.3746" fill="none" stroke-linecap="round" stroke-linejoin="round"/>
<path transform="translate(331.73,560.77) rotate(-90) scale(0.17250)" d="M1,28 C1,12 14,0 30,0 C47,0 60,13 60,30 C60,41 55,49 48,57 L0,100 H60" stroke="#1a1a1a" stroke-width="7.2464" fill="none" stroke-linecap="round" stroke-linejoin="round"/>
<path transform="translate(331.73,546.48) rotate(-90) scale(0.17250)" d="M0,63 H19" stroke="#1a1a1a" stroke-width="7.2464" fill="none" stroke-linecap="round" stroke-linejoin="round"/>
<path transform="translate(331.73,540.27) rotate(-90) scale(0.17250)" d="M91.45,22.04 A50,50 0 1,0 99.81,54.36 H56" stroke="#1a1a1a" stroke-width="7.2464" fill="none" stroke-linecap="round" stroke-linejoin="round"/>
<path transform="translate(331.73,517.98) rotate(-90) scale(0.17250)" d="M0,1.5 L19,0 V100" stroke="#1a1a1a" stroke-width="7.2464" fill="none" stroke-linecap="round" stroke-linejoin="round"/>
<path transform="translate(331.73,504.77) rotate(-90) scale(0.17250)" d="M0,122 L74,-6" stroke="#1a1a1a" stroke-width="7.2464" fill="none" stroke-linecap="round" stroke-linejoin="round"/>
<path transform="translate(331.73,488.27) rotate(-90) scale(0.17250)" d="M1,28 C1,12 14,0 30,0 C47,0 60,13 60,30 C60,41 55,49 48,57 L0,100 H60" stroke="#1a1a1a" stroke-width="7.2464" fill="none" stroke-linecap="round" stroke-linejoin="round"/>
<path transform="translate(244.53,740.27) rotate(-90) scale(0.16550)" d="M27,100 L60.2,51.69 M0,33 a33,33 0 1,0 66,0 a33,33 0 1,0 -66,0" stroke="#1a1a1a" stroke-width="7.5529" fill="none" stroke-linecap="round" stroke-linejoin="round"/>
<path transform="translate(244.53,725.07) rotate(-90) scale(0.16550)" d="M0,50 a34.5,50 0 1,0 69,0 a34.5,50 0 1,0 -69,0" stroke="#1a1a1a" stroke-width="7.5529" fill="none" stroke-linecap="round" stroke-linejoin="round"/>
<path transform="translate(244.53,709.67) rotate(-90) scale(0.16550)" d="M0,50 a34.5,50 0 1,0 69,0 a34.5,50 0 1,0 -69,0" stroke="#1a1a1a" stroke-width="7.5529" fill="none" stroke-linecap="round" stroke-linejoin="round"/>
<path transform="translate(244.53,693.98) rotate(-90) scale(0.16550)" d="M0,76 C5,68 12,65 19,67 C26,69 36,79 44,79 C52,79 57,72 60,66" stroke="#1a1a1a" stroke-width="7.5529" fill="none" stroke-linecap="round" stroke-linejoin="round"/>
<path transform="translate(244.53,675.27) rotate(-90) scale(0.16550)" d="M0,1.5 L19,0 V100" stroke="#1a1a1a" stroke-width="7.5529" fill="none" stroke-linecap="round" stroke-linejoin="round"/>
<path transform="translate(244.53,663.98) rotate(-90) scale(0.16550)" d="M0,50 a34.5,50 0 1,0 69,0 a34.5,50 0 1,0 -69,0" stroke="#1a1a1a" stroke-width="7.5529" fill="none" stroke-linecap="round" stroke-linejoin="round"/>
<path transform="translate(244.53,648.67) rotate(-90) scale(0.16550)" d="M0,50 a34.5,50 0 1,0 69,0 a34.5,50 0 1,0 -69,0" stroke="#1a1a1a" stroke-width="7.5529" fill="none" stroke-linecap="round" stroke-linejoin="round"/>
<path transform="translate(244.53,633.48) rotate(-90) scale(0.16550)" d="M0,50 a34.5,50 0 1,0 69,0 a34.5,50 0 1,0 -69,0" stroke="#1a1a1a" stroke-width="7.5529" fill="none" stroke-linecap="round" stroke-linejoin="round"/>
</svg>
</body></html>
